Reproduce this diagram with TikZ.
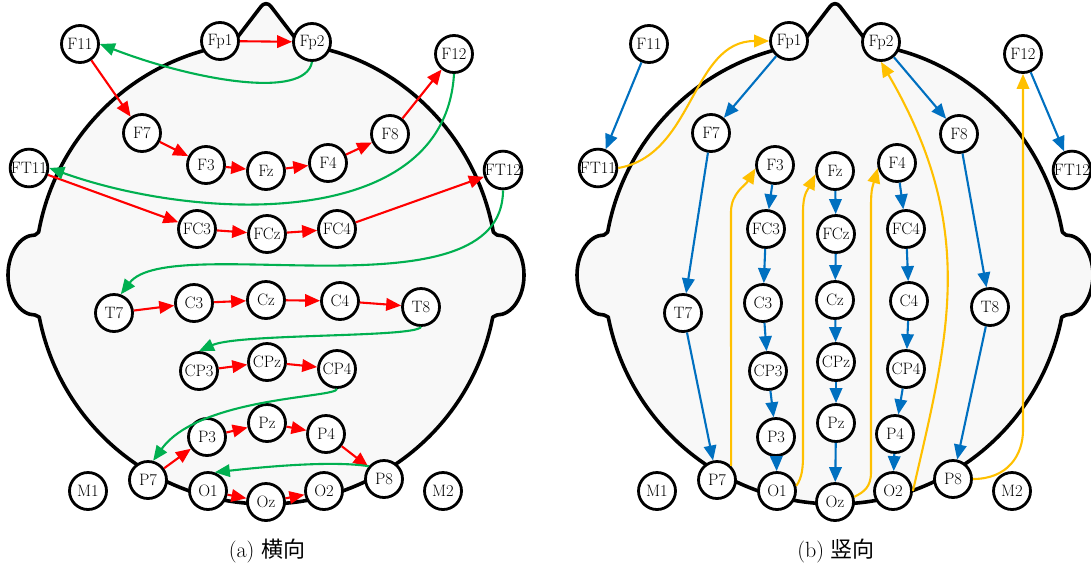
\documentclass[tikz,border=0pt]{standalone}
\usepackage{fontspec}
\newfontfamily\cjk{Noto Sans CJK SC}
\usetikzlibrary{arrows.meta,calc}

\definecolor{arrred}{HTML}{FF0000}
\definecolor{arrgreen}{HTML}{00B050}
\definecolor{arrblue}{HTML}{0070C0}
\definecolor{arrgold}{HTML}{FFC000}
\definecolor{headfill}{HTML}{F8F8F8}

\tikzset{
  elec/.style={circle,draw,line width=2.8pt,fill=white,minimum size=37pt,
    inner sep=0pt,font=\fontsize{16.5}{19}\selectfont},
  headline/.style={draw,line width=3.6pt,fill=headfill,line join=round},
  arrbase/.style={line width=2.1pt,-{Triangle[length=15pt,width=12.5pt]}},
  rarr/.style={arrbase,draw=arrred},
  garr/.style={arrbase,draw=arrgreen},
  barr/.style={arrbase,draw=arrblue},
  oarr/.style={arrbase,draw=arrgold},
  caption/.style={font=\fontsize{22}{26}\selectfont}
}

% head outline: skull circle, two ears and the nose
\newcommand\drawhead{%
  \draw[headline] ($(266,273)+(-81.5:231)$)
    arc[start angle=-81.5,end angle=-10.2,radius=231]
    -- (497,235) arc[start angle=-90,end angle=90,x radius=27,y radius=40]
    -- ($(266,273)+(11:231)$) arc[start angle=11,end angle=169,radius=231]
    -- (35,315) arc[start angle=90,end angle=270,x radius=27,y radius=40]
    -- ($(266,273)+(190.2:231)$) arc[start angle=190.2,end angle=261.5,radius=231]
    [rounded corners=8pt] -- (266,0) -- cycle;}

% electrodes of the 10-20 layout, names prefixed by #1
\newcommand\placeelectrodes[1]{%
  \foreach \n/\x/\y in {
    F11/80/44, Fp1/220/41, Fp2/312/42, F12/454/54,
    F7/142/133, F3/206/165, Fz/266/171, F4/328/163, F8/390/134,
    FT11/29/168, FT12/503/170,
    FC3/197/229, FCz/267/234, FC4/337/229,
    T7/114/313, C3/194/303, Cz/266/300, C4/340/301, T8/421/307,
    CP3/199/371, CPz/267/362, CP4/337/369,
    P3/207/437, Pz/267/423, P4/326/434,
    P7/148/480, P8/384/479,
    O1/208/491, Oz/266/502, O2/324/491,
    M1/88/491, M2/443/491}
  {\node[elec] (#1\n) at (\x,\y) {\n};}}

\begin{document}
\begin{tikzpicture}[x=1pt,y=-1pt]
\useasboundingbox (0,0) rectangle (1091,568);

% ---- (a) horizontal chain ----
\drawhead
\placeelectrodes{a}
\foreach \s/\t in {Fp1/Fp2, F11/F7, F7/F3, F3/Fz, Fz/F4, F4/F8, F8/F12,
    FT11/FC3, FC3/FCz, FCz/FC4, FC4/FT12, T7/C3, C3/Cz, Cz/C4, C4/T8,
    CP3/CPz, CPz/CP4, P7/P3, P3/Pz, Pz/P4, P4/P8, O1/Oz, Oz/O2}
  {\draw[rarr] (a\s) -- (a\t);}
\draw[garr] (aFp2.south) .. controls +(-7,39) and +(90,35) .. (aF11.east);
\draw[garr] (aF12.south) .. controls +(-9,157) and +(151,54) .. (aFT11.east);
\draw[garr] (aFT12.south) .. controls +(0,130) and +(49,-64) .. (aT7.70);
\draw[garr] (aT8.south) .. controls +(-6,11) and +(40,-18) .. (aCP3.north);
\draw[garr] (aCP4.south) .. controls +(0,9) and +(46,-64) .. (aP7.75);
\draw[garr] (aP8.140) .. controls +(-38,-6) and +(45,-5) .. (aO1.70);
\node[caption] (capa) at (267,551) {(a) {\cjk 横向}};

% ---- (b) vertical chain ----
\begin{scope}[shift={(569,0)}]
\drawhead
\placeelectrodes{b}
\foreach \s/\t in {F11/FT11, Fp1/F7, Fp2/F8, F12/FT12, F7/T7, T7/P7, F8/T8,
    T8/P8, F3/FC3, FC3/C3, C3/CP3, CP3/P3, P3/O1, Fz/FCz, FCz/Cz, Cz/CPz,
    CPz/Pz, Pz/Oz, F4/FC4, FC4/C4, C4/CP4, CP4/P4, P4/O2}
  {\draw[barr] (b\s) -- (b\t);}
\draw[oarr] (bFT11.east) .. controls +(76,-13) and +(-78,0) .. (bFp1.west);
\draw[oarr] (bP7.45) -- (162,212) .. controls +(0,-19) and +(-10,17) .. (bF3.190);
\draw[oarr] (bO1.15) .. controls +(6,-8) and +(0,12) .. (234,455)
  -- (234,212) .. controls +(0,-18) and +(-8,16) .. (bFz.190);
\draw[oarr] (bOz.15) .. controls +(10,-5) and +(0,15) .. (302,472)
  -- (302,206) .. controls +(0,-18) and +(-5,18) .. (bF4.195);
\draw[oarr] (bO2.east) .. controls +(35,-153) and +(98,168) .. (bFp2.south);
\draw[oarr] (bP8.east) .. controls +(35,0) and +(0,25) .. (454,430) -- (bF12.south);
\node[caption] (capb) at (267,551) {(b) {\cjk 竖向}};
\end{scope}
\end{tikzpicture}
\end{document}
